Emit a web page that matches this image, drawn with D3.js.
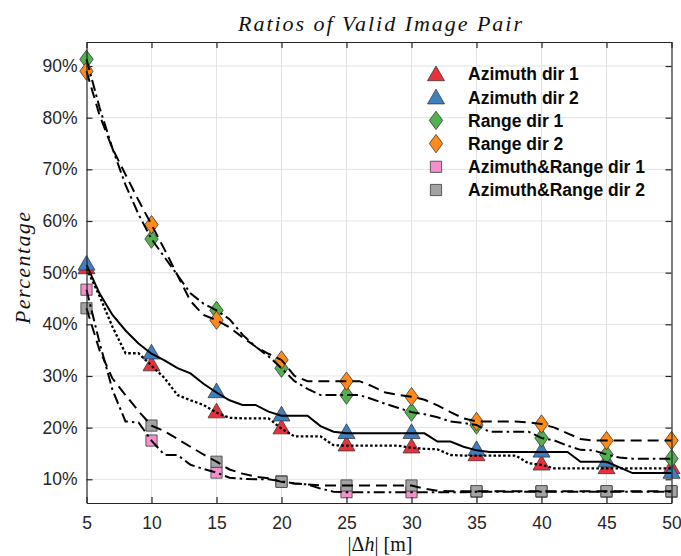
<!DOCTYPE html>
<html>
<head>
<meta charset="utf-8">
<script src="https://cdn.jsdelivr.net/npm/d3@7"></script>
<style>
  body { margin: 0; background: #fff; }
  svg { display: block; }
</style>
</head>
<body>
<main></main>
<script>
// x values: |dh| in metres
const hValues = [5, 6, 7, 8, 9, 10, 11, 12, 13, 14, 15, 16, 17, 18, 19, 20, 21, 22, 23, 24,
                 25, 26, 27, 28, 29, 30, 31, 32, 33, 34, 35, 36, 37, 38, 39, 40, 41, 42, 43, 44,
                 45, 46, 47, 48, 49, 50];

// percentages, one value per h
const azimuthDir1 = [50.8, 45.5, 39.5, 34.4, 34.4, 32, 29.6, 26.3, 25.3, 24.4,
                     22.9, 21.9, 21.8, 21.8, 21.8, 19.8, 18.3, 18.3, 18.3, 16.6,
                     16.5, 16.5, 16.5, 16.5, 16.5, 16.1, 15.9, 15.8, 14.7, 14.6,
                     14.6, 14.6, 14.6, 14.6, 13.1, 12.8, 12.1, 12.1, 12.1, 12.1,
                     12.1, 12.1, 12.1, 12.1, 12.1, 12.1];
const azimuthDir2 = [51.5, 46, 41.8, 38.8, 36.3, 34.3, 33, 31.5, 30.5, 28.5,
                     26.8, 25.3, 24.4, 24.4, 23.1, 22.3, 22.3, 22.3, 20.3, 19.2,
                     18.9, 18.9, 18.9, 18.9, 18.9, 18.9, 18.9, 17.3, 17.3, 16.3,
                     15.6, 15.3, 15.3, 15.3, 15.3, 15.3, 15.3, 15.3, 13.4, 13.4,
                     13.4, 12.3, 11.2, 11.2, 11.2, 11.2];
const rangeDir1 = [91.3, 82, 74, 67, 61.3, 56.5, 53, 49.5, 46, 44,
                   42.7, 41, 38, 35.7, 33.8, 31.5, 29, 27.5, 26.3, 26.3,
                   26.3, 26.3, 25.5, 24.6, 23.8, 23, 22.6, 22, 21.2, 20.9,
                   20.5, 19.2, 19.2, 19.2, 19.2, 18, 17.5, 16.5, 15.7, 15.6,
                   14.8, 14.2, 14, 14, 14, 14];
const rangeDir2 = [89, 80.5, 74, 69, 64, 59.3, 54.5, 49.5, 44.5, 41.8,
                   40.8, 39.4, 37.5, 35.7, 34.3, 33.1, 30, 29, 29, 29,
                   29, 29, 28, 26.8, 26.3, 26, 25.4, 24.3, 23, 21.8,
                   21.2, 21.2, 21.2, 21.2, 21, 20.7, 20, 18.9, 17.8, 17.5,
                   17.5, 17.5, 17.5, 17.5, 17.5, 17.5];
const azRangeDir1 = [46.7, 36.5, 27.3, 21.2, 21, 17.5, 14.7, 14.7, 12.8, 12,
                     11.3, 10.3, 10.1, 10, 10, 9.6, 9.2, 9, 8.2, 7.6,
                     7.5, 7.5, 7.5, 7.5, 7.5, 7.5, 7.5, 7.5, 7.5, 7.5,
                     7.6, 7.6, 7.6, 7.6, 7.6, 7.6, 7.6, 7.6, 7.6, 7.6,
                     7.6, 7.6, 7.6, 7.6, 7.6, 7.6];
const azRangeDir2 = [43.1, 35, 29.5, 26.3, 23.2, 20.4, 19.3, 17.8, 16.3, 14.8,
                     13.4, 11.9, 11.1, 10.5, 10.2, 9.5, 9.2, 9, 8.8, 8.8,
                     8.8, 8.8, 8.8, 8.8, 8.8, 8.8, 8.2, 7.8, 7.7, 7.7,
                     7.7, 7.7, 7.7, 7.7, 7.7, 7.7, 7.7, 7.7, 7.7, 7.7,
                     7.7, 7.7, 7.7, 7.7, 7.7, 7.7];

const seriesNames = ["Azimuth dir 1", "Azimuth dir 2", "Range dir 1", "Range dir 2",
                     "Azimuth&Range dir 1", "Azimuth&Range dir 2"];
const xTicks = [5, 10, 15, 20, 25, 30, 35, 40, 45, 50];
const yTicks = [10, 20, 30, 40, 50, 60, 70, 80, 90];

const WIDTH = 681;
const HEIGHT = 556;
const AXIS_COLOR = "#262626";

// line dash + marker per series
const series = [
    { name: seriesNames[0], values: azimuthDir1, dash: "2.6,2.2", width: 2.3, shape: "tri", fill: "#e8313a" },
    { name: seriesNames[1], values: azimuthDir2, dash: null, width: 2, shape: "tri", fill: "#3f7fc0" },
    { name: seriesNames[2], values: rangeDir1, dash: "11,4,2.5,4", width: 2, shape: "dia", fill: "#52b04f" },
    { name: seriesNames[3], values: rangeDir2, dash: "11,6", width: 2, shape: "dia", fill: "#ff8a17" },
    { name: seriesNames[4], values: azRangeDir1, dash: "11,4,2.5,4", width: 2, shape: "sq", fill: "#f590cf" },
    { name: seriesNames[5], values: azRangeDir2, dash: "11,6", width: 2, shape: "sq", fill: "#a3a3a3" }
];

var svg = d3.select("main").append("svg")
            .attr("width", WIDTH)
            .attr("height", HEIGHT)
            .style("font-family", "'Liberation Sans', Arial, sans-serif");

var x = d3.scaleLinear().domain([5, 50]).range([86.5, 671.5]);
var y = d3.scaleLinear().domain([5.41, 94.65]).range([503, 42]);

// Grid
svg.append("g")
   .selectAll("line.vgrid")
   .data(xTicks.slice(1, -1))
   .join("line")
   .attr("x1", d => x(d)).attr("x2", d => x(d))
   .attr("y1", y.range()[1]).attr("y2", y.range()[0])
   .style("stroke", "#e3e3e3").style("stroke-width", 1);

svg.append("g")
   .selectAll("line.hgrid")
   .data(yTicks)
   .join("line")
   .attr("x1", x.range()[0]).attr("x2", x.range()[1])
   .attr("y1", d => y(d)).attr("y2", d => y(d))
   .style("stroke", "#e3e3e3").style("stroke-width", 1);

// Markers first (every 5 m), lines are drawn over them
function markerPath (shape) {
    if (shape == "tri") return "M0,-9.5L8.5,5.2L-8.5,5.2Z";
    if (shape == "dia") return "M0,-9.2L6.7,0L0,9.2L-6.7,0Z";
    return "M-5.6,-5.6L5.6,-5.6L5.6,5.6L-5.6,5.6Z";
}

var markerLayer = svg.append("g");
series.forEach(function (s) {
    var pts = hValues.map((h, i) => [h, s.values[i]]).filter(p => p[0] % 5 == 0);
    markerLayer.append("g")
               .selectAll("path")
               .data(pts)
               .join("path")
               .attr("d", markerPath(s.shape))
               .attr("transform", p => "translate(" + x(p[0]) + "," + y(p[1]) + ")")
               .style("fill", s.fill)
               .style("stroke", "#3a3a3a")
               .style("stroke-width", 0.8);
});

var line = d3.line().x((d, i) => x(hValues[i])).y(d => y(d));
var lineLayer = svg.append("g");
series.forEach(function (s) {
    lineLayer.append("path")
             .datum(s.values)
             .attr("d", line)
             .style("fill", "none")
             .style("stroke", "#000")
             .style("stroke-width", s.width)
             .style("stroke-dasharray", s.dash);
});

// Axes: box with inward ticks on all sides
var xAxis = d3.axisBottom(x).tickValues(xTicks).tickSizeInner(-6).tickSizeOuter(0).tickPadding(14);
var yAxis = d3.axisLeft(y).tickValues(yTicks).tickSizeInner(-6).tickSizeOuter(0).tickPadding(9)
              .tickFormat(d => d + "%");

var gx = svg.append("g").attr("transform", "translate(0," + y.range()[0] + ")").call(xAxis);
var gy = svg.append("g").attr("transform", "translate(" + x.range()[0] + ",0)").call(yAxis);
var gxTop = svg.append("g").attr("transform", "translate(0," + y.range()[1] + ")")
               .call(d3.axisTop(x).tickValues(xTicks).tickSizeInner(-6).tickSizeOuter(0).tickFormat(""));
var gyRight = svg.append("g").attr("transform", "translate(" + x.range()[1] + ",0)")
                 .call(d3.axisRight(y).tickValues(yTicks).tickSizeInner(-6).tickSizeOuter(0).tickFormat(""));

[gx, gy, gxTop, gyRight].forEach(function (g) {
    g.select(".domain").style("stroke", AXIS_COLOR).style("stroke-width", 1.2);
    g.selectAll(".tick line").style("stroke", AXIS_COLOR).style("stroke-width", 1.2);
    g.selectAll(".tick text")
     .style("fill", AXIS_COLOR)
     .style("font-size", "17.5px")
     .style("font-family", "'Liberation Sans', Arial, sans-serif");
});

// Title and axis labels
svg.append("text")
   .attr("x", 380).attr("y", 31)
   .attr("text-anchor", "middle")
   .attr("textLength", 284).attr("lengthAdjust", "spacing")
   .style("font-family", "'Liberation Serif', 'DejaVu Serif', serif")
   .style("font-style", "italic")
   .style("font-size", "22px")
   .style("fill", "#111")
   .text("Ratios of Valid Image Pair");

svg.append("text")
   .attr("transform", "translate(30,268) rotate(-90)")
   .attr("text-anchor", "middle")
   .attr("textLength", 112).attr("lengthAdjust", "spacing")
   .style("font-family", "'Liberation Serif', 'DejaVu Serif', serif")
   .style("font-style", "italic")
   .style("font-size", "22px")
   .style("fill", "#111")
   .text("Percentage");

var xLabel = svg.append("text")
   .attr("x", 380).attr("y", 551)
   .attr("text-anchor", "middle")
   .style("font-family", "'Liberation Serif', 'DejaVu Serif', serif")
   .style("font-size", "20px")
   .style("fill", "#111");
xLabel.append("tspan").text("|\u0394");
xLabel.append("tspan").style("font-style", "italic").text("h");
xLabel.append("tspan").text("| [m]");

// Legend (no box)
var legend = svg.append("g").attr("transform", "translate(436,74)");
series.forEach(function (s, i) {
    var row = legend.append("g").attr("transform", "translate(0," + (i * 23.2) + ")");
    row.append("path")
       .attr("d", markerPath(s.shape))
       .attr("transform", s.shape == "tri" ? "translate(0,1.5)" : null)
       .style("fill", s.fill)
       .style("stroke", "#3a3a3a")
       .style("stroke-width", 0.8);
    row.append("text")
       .attr("x", 32).attr("y", 0)
       .attr("dy", "0.36em")
       .style("font-weight", "bold")
       .style("font-size", "17.5px")
       .style("fill", "#0a0a0a")
       .text(s.name);
});
</script>
</body>
</html>
